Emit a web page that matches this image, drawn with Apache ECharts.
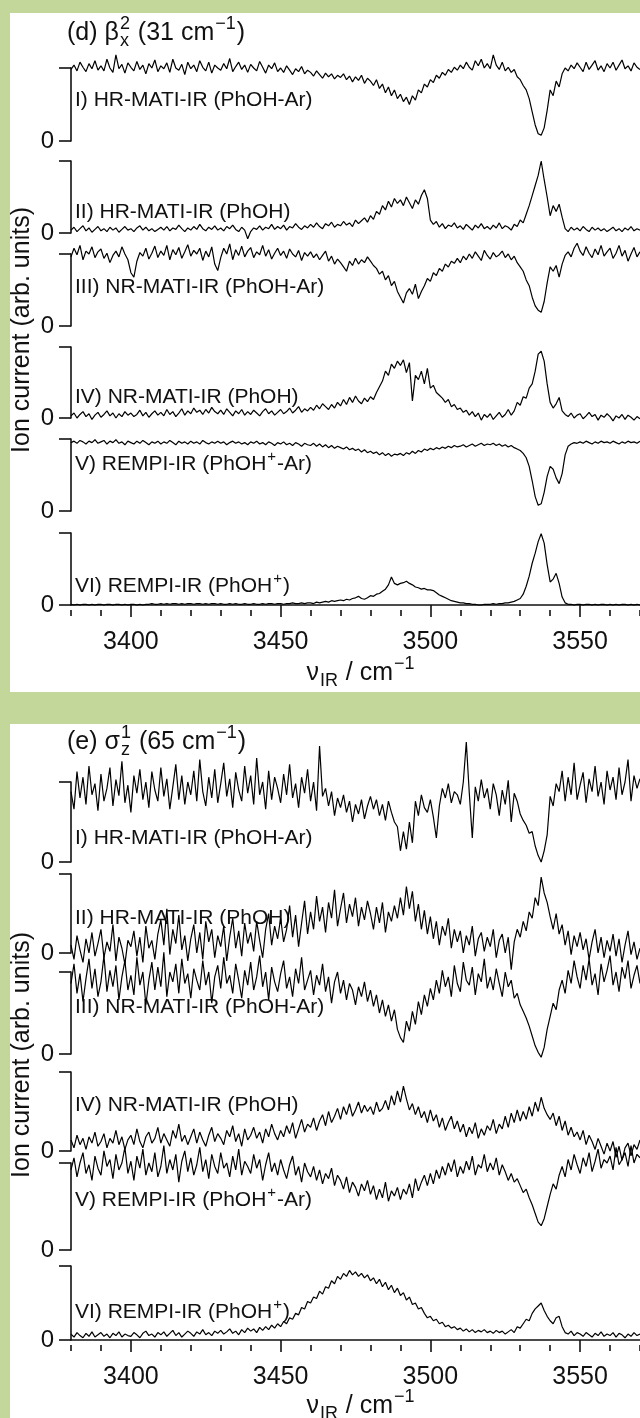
<!DOCTYPE html>
<html>
<head>
<meta charset="utf-8">
<script src="https://cdn.jsdelivr.net/npm/echarts@6/dist/echarts.min.js"></script>
<style>
  html, body { margin: 0; padding: 0; background: #c4d79b; }
  #chart { width: 640px; height: 1418px; }
</style>
</head>
<body>
<div id="chart"></div>
<script>
// IR spectra sampled every 1 cm^-1 from 3380 cm^-1.
// Each trace is in its own units: 0 = the trace's zero tick, 100 = its top tick.
const NU_START = 3380;
const NU_STEP = 1;

// ---- (d) beta_x^2 (31 cm^-1) ----
const d1_hrmati_phohar = [
  98,104,96,108,101,95,106,99,110,97,
  103,96,112,100,94,118,99,105,93,107,
  101,96,109,98,104,92,106,100,111,95,
  103,99,107,94,112,100,97,105,91,108,
  99,104,95,110,101,96,108,93,104,100,
  97,106,99,113,95,102,108,98,104,94,
  105,100,96,109,101,93,104,99,107,95,
  100,94,103,97,91,99,95,102,92,97,
  94,89,96,91,86,93,88,92,85,90,
  87,92,84,89,81,88,83,90,79,86,
  82,76,84,72,78,66,74,62,70,58,
  64,54,60,50,62,56,70,66,78,74,
  84,80,90,86,94,90,98,94,101,97,
  104,99,108,101,97,110,103,112,100,106,
  99,118,104,98,108,96,101,94,98,88,
  84,76,70,58,40,22,10,8,18,42,
  70,62,82,74,92,100,96,104,99,107,
  101,95,108,98,104,110,97,103,95,106,
  100,108,97,104,111,99,103,96,107,101,98
];
const d2_hrmati_phoh = [
  4,8,2,6,10,3,7,1,5,9,
  3,6,2,8,4,7,1,5,9,4,
  6,2,7,10,4,8,3,6,2,5,
  8,4,9,3,7,5,11,6,2,7,
  4,9,5,12,6,3,8,5,10,4,
  7,3,9,6,11,5,2,8,4,-8,
  2,7,5,10,4,8,6,12,5,9,
  6,11,4,9,7,13,8,5,10,7,
  12,8,14,9,6,13,10,15,8,12,
  10,16,11,14,9,18,13,17,21,15,
  24,19,30,26,38,32,44,36,48,41,
  46,38,50,42,34,46,40,52,60,48,
  18,12,16,8,13,6,11,9,14,7,
  10,5,12,8,4,11,7,13,6,9,
  5,11,7,14,6,10,8,4,12,9,
  18,14,26,38,52,66,80,100,74,50,
  24,38,30,40,22,6,2,8,4,7,
  3,9,5,2,8,4,7,3,6,2,
  5,8,3,6,2,7,4,9,3,6,4
];
const d3_nrmati_phohar = [
  96,108,99,112,92,104,100,110,95,103,
  107,94,101,88,98,104,96,110,100,92,
  74,68,90,102,97,108,93,101,111,95,
  104,98,112,92,106,99,109,94,103,113,
  97,105,100,108,91,104,96,110,86,77,
  95,108,100,114,92,106,98,111,96,104,
  109,95,103,99,112,97,106,93,101,108,
  98,104,94,107,100,96,105,91,102,97,
  103,95,100,92,98,104,90,97,86,93,
  88,82,76,90,84,94,86,92,88,96,
  90,84,80,72,76,64,70,56,62,48,
  40,32,46,52,44,58,38,48,56,66,
  62,74,70,80,76,86,82,90,87,94,
  88,97,92,100,94,103,97,91,105,98,
  93,102,96,99,104,95,100,92,97,88,
  82,76,64,56,40,28,22,19,34,60,
  82,76,84,68,86,98,103,96,108,115,
  104,98,110,101,95,107,99,112,97,103,
  108,94,101,112,97,105,90,100,109,96,103
];
const d4_nrmati_phoh = [
  3,7,0,5,9,2,6,-2,4,8,
  1,5,10,3,7,0,6,2,9,4,
  7,2,5,11,3,8,1,6,10,4,
  8,3,12,5,9,2,7,13,4,10,
  6,14,8,11,5,12,7,15,9,6,
  11,5,13,8,3,10,6,12,4,9,
  5,11,7,3,9,13,6,10,4,8,
  12,6,9,14,7,11,16,8,13,10,
  15,11,18,13,20,16,12,19,14,22,
  17,26,19,29,22,31,24,20,28,23,
  30,26,36,44,52,66,60,76,70,80,
  74,82,64,78,24,60,54,66,48,70,
  42,46,36,32,28,22,26,16,19,12,
  14,8,11,4,9,2,7,-3,5,1,
  6,-2,3,8,1,5,12,4,10,22,
  18,30,28,42,48,66,90,94,80,48,
  22,14,20,29,10,5,2,7,0,4,
  6,-1,3,8,2,5,-3,4,1,6,
  2,-4,3,0,5,-2,4,1,-3,2,-1
];
const d5_rempi_phohpar = [
  95,97,94,98,96,93,97,95,99,94,
  96,98,93,97,95,99,94,96,92,97,
  95,93,97,94,98,95,92,96,94,97,
  93,96,94,98,95,92,97,94,96,93,
  97,94,96,93,98,95,93,96,94,97,
  94,96,92,95,97,94,96,93,95,92,
  96,94,97,93,95,92,96,94,91,95,
  93,96,92,94,91,95,93,90,94,92,
  91,94,90,93,89,92,88,91,87,90,
  88,86,89,85,87,84,86,82,85,81,
  83,80,82,78,81,77,80,76,79,78,
  80,77,81,79,83,80,84,82,86,84,
  87,85,88,86,89,87,90,88,91,89,
  90,92,89,91,93,90,92,94,91,93,
  92,94,91,93,90,92,89,91,88,86,
  84,80,74,62,42,20,8,10,26,48,
  62,58,46,38,52,78,90,93,95,94,
  96,94,97,95,93,96,94,97,95,96,
  94,97,95,93,96,94,97,95,96,94,97
];
const d6_rempi_phohp = [
  1,0,1,0,1,1,0,1,0,1,
  1,0,1,1,0,1,1,0,1,0,
  1,1,0,1,0,1,1,2,1,1,
  2,1,2,1,2,2,1,2,1,2,
  2,1,2,2,1,2,1,2,2,1,
  2,1,1,2,1,2,1,1,2,1,
  1,2,1,1,2,1,2,2,1,2,
  2,1,2,2,3,2,2,3,2,3,
  3,2,4,3,4,5,4,6,5,6,
  7,6,8,7,9,10,12,9,8,10,
  13,12,15,16,19,22,28,39,30,28,
  30,31,33,30,28,25,24,22,23,21,
  21,20,17,14,12,10,8,6,5,4,
  3,3,2,2,1,1,0,0,1,1,
  1,2,1,2,2,3,3,4,5,7,
  9,15,26,40,58,72,88,99,86,56,
  32,36,44,30,11,3,1,1,0,1,
  1,0,1,1,0,1,0,1,1,0,
  1,0,1,0,1,1,0,1,0,1,0
];

// ---- (e) sigma_z^1 (65 cm^-1) ----
const e1_hrmati_phohar = [
  88,66,113,80,106,72,120,84,98,64,
  110,76,92,118,70,103,83,126,74,96,
  62,108,86,116,78,100,68,113,90,76,
  118,82,104,66,94,122,78,108,72,100,
  84,114,76,128,88,70,106,80,116,74,
  98,124,82,104,68,112,90,76,120,86,
  108,72,130,84,100,66,114,78,106,92,
  74,110,84,122,80,98,68,106,86,116,
  76,100,64,145,82,92,70,88,58,80,
  68,84,62,76,50,72,60,78,54,70,
  82,66,78,58,72,52,76,62,50,44,
  14,38,16,50,24,76,58,84,68,62,
  78,56,30,70,92,80,98,74,88,84,
  72,100,150,86,30,94,76,103,80,92,
  66,98,84,58,90,72,102,50,86,76,
  60,52,46,36,38,20,8,0,14,34,
  82,70,98,88,114,76,106,84,124,78,
  96,112,74,104,88,120,82,100,72,114,
  90,106,78,118,84,100,128,76,108,92,104
];
const e2_hrmati_phoh = [
  10,-8,22,4,-12,18,0,26,-4,12,
  30,-6,14,2,36,-10,20,6,-14,16,
  8,28,-4,20,-12,34,6,16,-8,24,
  42,10,56,-2,30,12,48,4,22,-10,
  18,36,0,26,-8,40,14,30,-6,22,
  8,34,-10,20,44,6,28,-4,38,12,
  26,2,40,16,-6,30,50,10,34,18,
  44,14,30,60,20,48,8,38,66,24,
  52,30,72,40,58,26,64,44,80,34,
  56,76,38,62,46,70,34,58,42,66,
  50,30,58,38,64,26,52,40,60,44,
  70,48,84,56,78,40,62,30,54,24,
  46,18,40,10,34,22,44,6,30,14,
  28,0,22,10,34,-4,18,26,2,20,
  8,30,-6,16,24,0,20,-21,14,30,
  20,40,28,52,44,70,60,96,76,64,
  46,30,50,24,36,10,28,-2,22,8,
  26,4,18,-8,14,30,0,20,-6,16,
  2,24,-4,18,-12,10,28,-2,14,-8,6
];
const e3_nrmati_phohar = [
  86,110,74,98,64,92,116,80,104,70,
  88,120,76,102,82,108,66,94,114,78,
  96,72,118,84,100,60,90,112,78,106,
  82,124,70,100,88,110,74,116,86,98,
  68,104,90,78,114,84,100,62,94,108,
  80,118,86,96,74,110,90,68,102,84,
  112,78,94,120,82,100,66,106,88,76,
  98,114,80,94,70,104,86,118,78,90,
  102,72,96,84,110,76,94,62,88,100,
  74,90,66,86,78,60,82,70,88,64,
  78,58,72,50,66,46,60,40,54,30,
  20,14,40,28,52,36,64,48,72,58,
  80,66,90,74,102,82,94,70,108,86,
  76,112,90,84,106,72,98,88,116,80,
  94,78,104,86,70,100,82,90,68,74,
  60,52,44,34,22,10,2,-4,8,30,
  46,62,54,78,90,74,102,86,114,94,
  80,108,90,116,84,98,72,110,88,102,
  120,84,100,76,106,92,114,80,96,108,86
];
const e4_nrmati_phoh = [
  14,4,20,8,16,2,18,10,24,6,
  12,22,4,16,10,26,8,18,2,14,
  20,8,28,12,4,18,24,10,16,30,
  10,22,14,6,26,16,34,12,20,8,
  18,28,10,24,14,6,20,30,12,22,
  16,8,26,18,32,12,22,6,28,14,
  20,30,16,24,10,28,18,34,22,14,
  26,18,32,22,36,16,28,40,24,34,
  30,42,26,38,46,32,50,36,44,54,
  40,56,46,60,44,52,62,48,58,50,
  56,46,62,50,54,64,52,70,58,76,
  62,82,66,52,60,46,56,42,50,36,
  52,38,46,30,42,26,36,44,28,38,
  24,34,18,30,22,36,16,28,20,32,
  26,40,22,34,28,44,30,48,36,52,
  38,50,40,56,44,62,50,68,54,46,
  40,48,32,44,26,38,20,30,18,24,
  14,26,8,20,12,2,16,6,-4,10,
  0,12,-8,6,-12,4,10,-6,8,2,14
];
const e5_rempi_phohpar = [
  92,106,84,100,112,88,98,80,108,94,
  86,114,96,104,82,110,92,100,118,88,
  102,80,108,94,116,86,100,90,112,84,
  96,120,88,104,92,110,78,102,114,90,
  106,86,98,118,90,104,82,110,96,88,
  112,94,100,84,108,92,116,86,102,96,
  88,110,94,104,80,98,112,90,100,86,
  104,92,82,98,108,86,96,78,100,90,
  84,96,80,92,76,88,82,94,74,86,
  80,70,84,66,78,72,62,76,68,80,
  64,74,58,70,60,78,56,68,62,72,
  58,70,64,76,60,82,68,78,86,74,
  88,76,92,82,96,86,100,90,104,84,
  96,88,102,92,108,86,98,94,110,90,
  100,92,106,86,98,90,80,88,78,82,
  74,66,70,60,52,42,32,28,36,50,
  64,76,70,86,96,84,104,92,110,98,
  88,106,96,112,90,102,116,94,104,100,
  108,92,118,98,104,112,96,120,100,110,106
];
const e6_rempi_phohp = [
  8,4,10,6,3,9,5,11,4,7,
  10,5,8,3,9,6,11,4,8,6,
  5,10,7,3,9,12,6,8,4,10,
  7,11,5,9,13,6,10,4,8,12,
  9,5,11,8,14,7,10,6,12,9,
  13,8,11,15,9,12,7,14,10,16,
  12,15,10,17,13,18,14,20,16,22,
  18,25,22,30,28,36,34,44,42,52,
  50,58,56,66,62,72,70,80,76,86,
  82,90,86,94,88,92,86,90,84,88,
  80,84,76,82,72,78,68,74,64,70,
  60,64,54,58,48,50,42,44,36,30,
  32,26,28,22,24,18,20,16,18,14,
  16,12,15,11,14,10,13,11,14,10,
  12,9,13,10,12,8,11,14,10,18,
  16,22,28,26,36,42,46,50,40,32,
  26,22,30,32,18,10,8,12,6,10,
  8,5,10,7,4,9,6,11,5,8,
  6,10,4,9,7,3,8,5,10,6,8
];

// Axis ticks and texts
const xTicksMajor = [3400, 3450, 3500, 3550];
const xTicksMinor = [3380, 3390, 3410, 3420, 3430, 3440, 3460, 3470, 3480, 3490,
                     3510, 3520, 3530, 3540, 3560, 3570];
const NU_MIN = 3380, NU_MAX = 3570;

// label pieces: plain strings, or {sup, sub} raised / lowered small text
const traceLabels = [
  ['I) HR-MATI-IR (PhOH-Ar)'],
  ['II) HR-MATI-IR (PhOH)'],
  ['III) NR-MATI-IR (PhOH-Ar)'],
  ['IV) NR-MATI-IR (PhOH)'],
  ['V) REMPI-IR (PhOH', {sup: '+'}, '-Ar)'],
  ['VI) REMPI-IR (PhOH', {sup: '+'}, ')']
];
const panelTitles = [
  ['(d) \u03b2', {sup: '2', sub: 'x'}, ' (31 cm', {sup: '\u22121'}, ')'],
  ['(e) \u03c3', {sup: '1', sub: 'z'}, ' (65 cm', {sup: '\u22121'}, ')']
];
const xTitle = ['\u03bd', {sub: 'IR'}, ' / cm', {sup: '\u22121'}];
const yTitle = 'Ion current (arb. units)';

const panelTraces = [
  [d1_hrmati_phohar, d2_hrmati_phoh, d3_nrmati_phohar, d4_nrmati_phoh, d5_rempi_phohpar, d6_rempi_phohp],
  [e1_hrmati_phohar, e2_hrmati_phoh, e3_nrmati_phohar, e4_nrmati_phoh, e5_rempi_phohpar, e6_rempi_phohp]
];

// ---- layout (pixels) ----
const FONT = '"Liberation Sans", Arial, Helvetica, sans-serif';
const INK = '#111';
const PLOT_LEFT = 71;
const PX_PER_CM = 3.03;
const PLOT_WIDTH = (NU_MAX - NU_MIN) * PX_PER_CM;
const panels = [
  { top: 13, bottom: 692, titleY: 33, xTitleY: 673, yTitleY: 330,
    tops:  [68, 161, 254, 347, 439, 533],
    zeros: [141, 233, 326, 418, 511, 605],
    labelY: [100, 212, 287, 397, 464, 586] },
  { top: 724, bottom: 1418, titleY: 742, xTitleY: 1406, yTitleY: 1055,
    tops:  [782, 874, 972, 1072, 1163, 1266],
    zeros: [862, 953, 1054, 1151, 1250, 1340],
    labelY: [838, 918, 1007, 1105, 1200, 1312] }
];

const measureCtx = document.createElement('canvas').getContext('2d');
function textWidth(s, size) {
  measureCtx.font = size + 'px ' + FONT;
  return measureCtx.measureText(s).width;
}
function textEl(t, x, y, size, extra) {
  return Object.assign({
    type: 'text', x: x, y: y, silent: true,
    style: { text: t, fontSize: size, fontFamily: FONT, fill: INK,
             align: 'left', verticalAlign: 'middle',
             textAlign: 'left', textVerticalAlign: 'middle' }
  }, extra || {});
}
// Lays out text pieces left to right; sup/sub sit stacked at the same x.
function composeText(parts, x, y, size, anchor) {
  const small = Math.round(size * 0.7);
  const items = [];
  let cx = 0;
  parts.forEach(p => {
    if (typeof p === 'string') {
      items.push({ t: p, x: cx, dy: 0, s: size });
      cx += textWidth(p, size);
    } else {
      let w = 0;
      if (p.sup) { items.push({ t: p.sup, x: cx + 1, dy: -size * 0.36, s: small }); w = Math.max(w, textWidth(p.sup, small)); }
      if (p.sub) { items.push({ t: p.sub, x: cx + 1, dy: size * 0.34, s: small }); w = Math.max(w, textWidth(p.sub, small)); }
      cx += w + 2;
    }
  });
  const x0 = anchor === 'center' ? x - cx / 2 : x;
  return items.map(it => textEl(it.t, x0 + it.x, y + it.dy, it.s));
}

const grids = [], xAxes = [], yAxes = [], series = [], graphics = [];
const axisLine = { show: true, lineStyle: { color: INK, width: 1.6 } };

panels.forEach((p, pi) => {
  graphics.push({ type: 'rect', silent: true, z: -10,
    shape: { x: 10, y: p.top, width: 630, height: p.bottom - p.top },
    style: { fill: '#ffffff' } });
  graphics.push(...composeText(panelTitles[pi], 67, p.titleY, 25, 'left'));
  graphics.push(...composeText(xTitle, 361, p.xTitleY, 25, 'center'));
  const yt = textEl(yTitle, 22, p.yTitleY, 25, { rotation: Math.PI / 2 });
  yt.style.align = 'center';
  yt.style.textAlign = 'center';
  graphics.push(yt);

  panelTraces[pi].forEach((trace, ti) => {
    const gi = grids.length;
    grids.push({ left: PLOT_LEFT, width: PLOT_WIDTH, top: p.tops[ti],
                 height: p.zeros[ti] - p.tops[ti] });
    const last = ti === panelTraces[pi].length - 1;
    const xi = xAxes.length;
    xAxes.push({
      gridIndex: gi, type: 'value', min: NU_MIN, max: NU_MAX, show: last,
      position: 'bottom', offset: 5,
      axisLine: axisLine,
      axisTick: { show: true, customValues: xTicksMajor, length: 12, lineStyle: { color: INK, width: 1.6 } },
      axisLabel: { show: true, customValues: xTicksMajor, formatter: v => String(v),
                   fontSize: 25, fontFamily: FONT, color: INK, margin: 20 },
      splitLine: { show: false }
    });
    if (last) {
      xAxes.push({
        gridIndex: gi, type: 'value', min: NU_MIN, max: NU_MAX,
        position: 'bottom', offset: 5,
        axisLine: { show: false },
        axisTick: { show: true, customValues: xTicksMinor, length: 6, lineStyle: { color: INK, width: 1.6 } },
        axisLabel: { show: false },
        splitLine: { show: false }
      });
    }
    yAxes.push({
      gridIndex: gi, type: 'value', min: 0, max: 100, interval: 100,
      axisLine: axisLine,
      axisTick: { show: true, length: 12, lineStyle: { color: INK, width: 1.6 } },
      axisLabel: { formatter: v => (v === 0 ? '0' : ''), fontSize: 24, fontFamily: FONT, color: INK, margin: 17 },
      splitLine: { show: false }
    });
    series.push({
      type: 'line', xAxisIndex: xi, yAxisIndex: gi,
      data: trace.map((v, i) => [NU_START + i * NU_STEP, v]),
      showSymbol: false, symbol: 'none', clip: false, z: 3,
      lineStyle: { color: '#000', width: 1.2 }
    });
    graphics.push(...composeText(traceLabels[ti], 75, p.labelY[ti], 21, 'left'));
  });
});

const chart = echarts.init(document.getElementById('chart'), null, { width: 640, height: 1418 });
chart.setOption({
  backgroundColor: '#c4d79b',
  animation: false,
  grid: grids,
  xAxis: xAxes,
  yAxis: yAxes,
  series: series,
  graphic: graphics
});
</script>
</body>
</html>
